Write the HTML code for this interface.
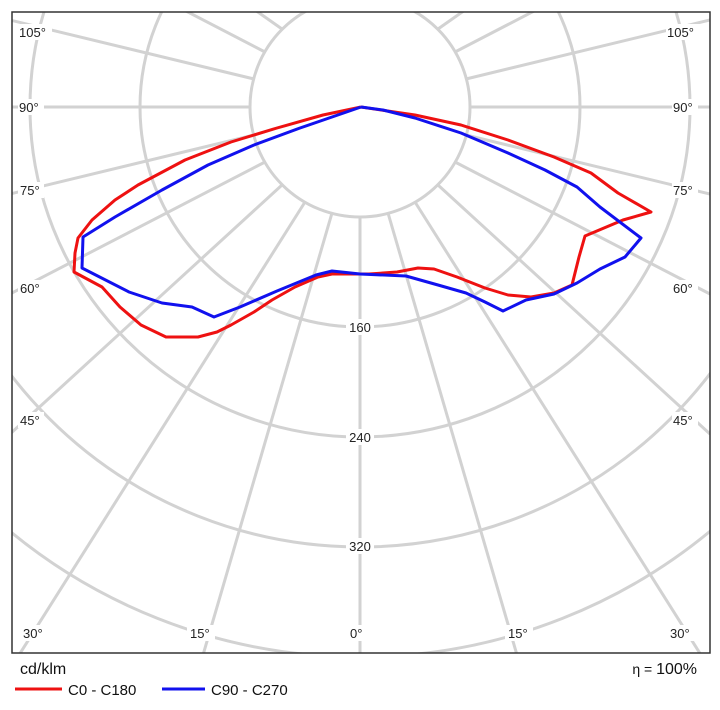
<!DOCTYPE html>
<html><head><meta charset="utf-8"><style>
html,body{margin:0;padding:0;background:#fff;width:720px;height:710px;overflow:hidden}
svg{display:block}
svg text{font-family:"Liberation Sans",Arial,sans-serif}
</style></head><body>
<svg width="720" height="710" viewBox="0 0 720 710" xmlns="http://www.w3.org/2000/svg" style="overflow:hidden">
<defs><clipPath id="c"><rect x="12" y="12" width="698" height="641"/></clipPath></defs>
<g clip-path="url(#c)" stroke="#d2d2d2" stroke-width="3" fill="none">
<circle cx="360" cy="107" r="110"/><circle cx="360" cy="107" r="220"/><circle cx="360" cy="107" r="330"/>
<circle cx="360" cy="107" r="440"/><circle cx="360" cy="107" r="550"/><circle cx="360" cy="107" r="660"/>
<line x1="360" y1="217" x2="360" y2="660"/>
<line x1="332" y1="213" x2="203" y2="655"/>
<line x1="305" y1="202" x2="19" y2="655"/>
<line x1="282" y1="185" x2="10" y2="434"/>
<line x1="265" y1="162" x2="10" y2="294"/>
<line x1="254" y1="135" x2="10" y2="194"/>
<line x1="250" y1="107" x2="10" y2="107"/>
<line x1="254" y1="79" x2="10" y2="20"/>
<line x1="265" y1="52" x2="184" y2="10"/>
<line x1="282" y1="29" x2="255" y2="10"/>
<line x1="388" y1="213" x2="517" y2="655"/>
<line x1="415" y1="202" x2="701" y2="655"/>
<line x1="438" y1="185" x2="710" y2="434"/>
<line x1="455" y1="162" x2="710" y2="294"/>
<line x1="466" y1="135" x2="710" y2="194"/>
<line x1="470" y1="107" x2="710" y2="107"/>
<line x1="466" y1="79" x2="710" y2="20"/>
<line x1="455" y1="52" x2="536" y2="10"/>
<line x1="438" y1="29" x2="465" y2="10"/>
</g>
<g font-size="13" fill="#222">
<g fill="#fff" stroke="none">
<rect x="18" y="24" width="34" height="16"/><rect x="18" y="99" width="26" height="16"/><rect x="18" y="182" width="26" height="16"/>
<rect x="18" y="280" width="26" height="16"/><rect x="18" y="412" width="26" height="16"/><rect x="20" y="625" width="28" height="16"/>
<rect x="187" y="625" width="28" height="16"/><rect x="347" y="625" width="20" height="16"/><rect x="505" y="625" width="28" height="16"/>
<rect x="667" y="625" width="28" height="16"/><rect x="666" y="24" width="34" height="16"/><rect x="672" y="99" width="26" height="16"/>
<rect x="672" y="182" width="26" height="16"/><rect x="672" y="280" width="26" height="16"/><rect x="672" y="412" width="26" height="16"/>
<rect x="346" y="319" width="28" height="16"/><rect x="346" y="429" width="28" height="16"/><rect x="346" y="538" width="28" height="16"/>
</g>
<text x="19" y="37">105°</text><text x="19" y="112">90°</text><text x="20" y="195">75°</text>
<text x="20" y="293">60°</text><text x="20" y="425">45°</text><text x="23" y="638">30°</text>
<text x="190" y="638">15°</text><text x="350" y="638">0°</text><text x="508" y="638">15°</text>
<text x="670" y="638">30°</text><text x="667" y="37">105°</text><text x="673" y="112">90°</text>
<text x="673" y="195">75°</text><text x="673" y="293">60°</text><text x="673" y="425">45°</text>
<text x="360" y="332" text-anchor="middle">160</text><text x="360" y="442" text-anchor="middle">240</text><text x="360" y="551" text-anchor="middle">320</text>
</g>
<polyline fill="none" stroke="#ee1111" stroke-width="3" stroke-linejoin="round" points="361,107 415,115 461,125 508,140 554,157 591,173 618,193 651,212 623,220 585,236 579,257 572,285 554,293 531,297 508,295 485,288 457,277 434,269 418,268 397,272 369,274 332,274 318,277 295,287 272,300 254,312 231,325 217,332 198,337 166,337 141,325 120,307 102,287 74,272 75,253 78,238 92,220 115,200 138,185 185,160 231,142 277,128 323,115 361,107"/>
<polyline fill="none" stroke="#1111ee" stroke-width="3" stroke-linejoin="round" points="361,107 383,110 415,118 461,133 508,153 545,170 577,187 600,207 641,238 625,257 600,269 577,283 554,294 526,300 503,311 485,302 466,293 438,285 406,276 360,274 332,271 316,275 277,291 240,307 214,317 192,307 162,303 129,292 82,268 83,237 115,217 162,190 208,165 254,145 300,128 361,107"/>
<rect x="12" y="12" width="698" height="641" fill="none" stroke="#333" stroke-width="1.5"/>
<text x="20" y="674" font-size="16" fill="#111">cd/klm</text>
<text x="697" y="674" font-size="16" fill="#111" text-anchor="end"><tspan font-size="14">η = </tspan>100%</text>
<line x1="15" y1="689" x2="62" y2="689" stroke="#ee1111" stroke-width="3"/>
<text x="68" y="695" font-size="15" fill="#111">C0 - C180</text>
<line x1="162" y1="689" x2="205" y2="689" stroke="#1111ee" stroke-width="3"/>
<text x="211" y="695" font-size="15" fill="#111">C90 - C270</text>
</svg>
</body></html>
